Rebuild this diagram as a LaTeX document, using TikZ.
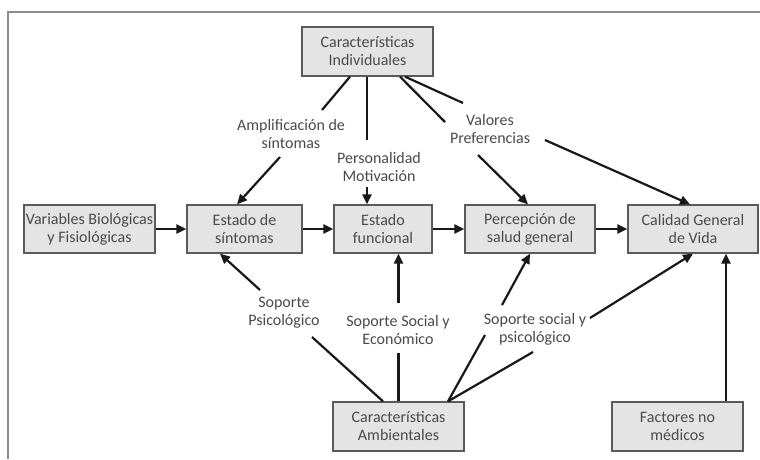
\documentclass[tikz,border=0pt]{standalone}
\usepackage{fontspec}
\setmainfont{Carlito}
\usetikzlibrary{arrows.meta}
\definecolor{boxfill}{HTML}{E4E4E4}
\definecolor{boxline}{HTML}{5A5A5A}
\definecolor{txt}{HTML}{4A4A4A}
\definecolor{framec}{HTML}{8C8C8C}
\begin{document}
\begin{tikzpicture}[x=1pt,y=-1pt,
  box/.style={draw=boxline, fill=boxfill, line width=1.3pt, minimum height=48pt, align=center, inner sep=1pt, text=txt, font=\fontsize{16}{18}\selectfont},
  lab/.style={align=center, text=txt, font=\fontsize{16}{18}\selectfont, inner sep=1pt},
  ln/.style={line width=2.2pt, black!90},
  arr/.style={ln, -{Triangle[length=10pt,width=9pt]}}]
\useasboundingbox (0,0) rectangle (760,459);
\fill[white] (0,0) rectangle (760,459);
\draw[framec, line width=1.5pt] (760,12) -- (8,12) -- (8,459);

% boxes
\node[box, minimum width=131pt, minimum height=49pt] (ci) at (367.5,51.5) {Características\\Individuales};
\node[box, minimum width=131pt] (vb) at (89.5,229) {Variables Biológicas\\y Fisiológicas};
\node[box, minimum width=115pt] (es) at (244.5,229) {Estado de\\síntomas};
\node[box, minimum width=98pt] (ef) at (383,229) {Estado\\funcional};
\node[box, minimum width=130pt] (pg) at (530,229) {Percepción de\\salud general};
\node[box, minimum width=130pt] (cg) at (693,229) {Calidad General\\de Vida};
\node[box, minimum width=131pt, minimum height=49pt] (ca) at (398.5,426.5) {Características\\Ambientales};
\node[box, minimum width=131pt, minimum height=49pt] (fm) at (677.5,426.5) {Factores no\\médicos};

% labels
\node[lab] (l1) at (291,134) {Amplificación de\\síntomas};
\node[lab] (l2) at (379,167) {Personalidad\\Motivación};
\node[lab] (l3) at (490,129) {Valores\\Preferencias};
\node[lab] (l4) at (284,313) {Soporte\\Psicológico};
\node[lab] (l5) at (398,330) {Soporte Social y\\Económico};
\node[lab] (l6) at (535,329) {Soporte social y\\psicológico};

% free ends
\coordinate (a1) at (322,110);  \coordinate (b1) at (280,157);
\coordinate (a2) at (367,140);  \coordinate (b2) at (367,187);
\coordinate (a3) at (445,122);  \coordinate (b3) at (478,155);
\coordinate (a4) at (463,103);  \coordinate (b4) at (545,140);
\coordinate (a6) at (312,337);  \coordinate (b6) at (260,290);
\coordinate (a7) at (398.5,353);  \coordinate (b7) at (398.5,303);
\coordinate (a8) at (485,335);  \coordinate (b8) at (502,305);
\coordinate (a9) at (533,352);  \coordinate (b9) at (590,318);

% main chain
\draw[arr] (vb.east) -- (es.west);
\draw[arr] (es.east) -- (ef.west);
\draw[arr] (ef.east) -- (pg.west);
\draw[arr] (pg.east) -- (cg.west);

% from individual characteristics
\draw[ln] ([xshift=-17.5pt]ci.south) -- (a1);
\draw[arr] (b1) -- ([xshift=-7.5pt]es.north);
\draw[ln] ([xshift=-0.5pt]ci.south) -- (a2);
\draw[arr] (b2) -- ([xshift=-16pt]ef.north);
\draw[ln] ([xshift=32.5pt]ci.south) -- (a3);
\draw[arr] (b3) -- ([xshift=-2pt]pg.north);
\draw[ln] ([xshift=37.5pt]ci.south) -- (a4);
\draw[arr] (b4) -- ([xshift=-3pt]cg.north);

% from environmental characteristics
\draw[ln] ([xshift=-15.5pt]ca.north) -- (a6);
\draw[arr] (b6) -- ([xshift=-24.5pt]es.south);
\draw[ln] (ca.north) -- (a7);
\draw[arr] (b7) -- ([xshift=15.5pt]ef.south);
\draw[ln] ([xshift=49.5pt]ca.north) -- (a8);
\draw[arr] (b8) -- (pg.south);
\draw[ln] ([xshift=49.5pt]ca.north) -- (a9);
\draw[arr] (b9) -- (cg.south);

% non-medical factors
\draw[arr] ([xshift=48.5pt]fm.north) -- ([xshift=33pt]cg.south);
\end{tikzpicture}
\end{document}
